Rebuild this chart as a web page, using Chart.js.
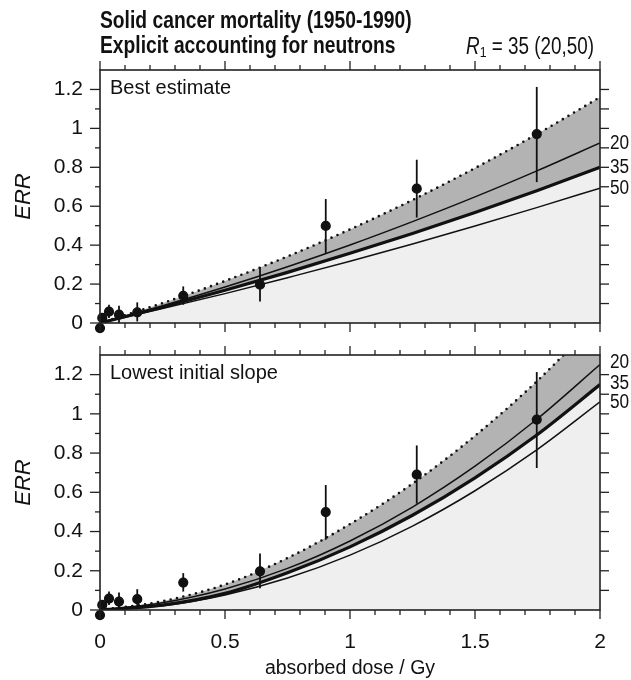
<!DOCTYPE html>
<html>
<head>
<meta charset="utf-8">
<script src="https://cdn.jsdelivr.net/npm/chart.js@4.4.0/dist/chart.umd.min.js"></script>
<style>
  html, body { margin: 0; padding: 0; background: #fff; }
  #wrap { position: relative; width: 631px; height: 680px; }
  canvas { position: absolute; left: 0; }
  #top { top: 0; }
  #bottom { top: 345px; }
</style>
</head>
<body>
<div id="wrap">
  <canvas id="top" width="631" height="345"></canvas>
  <canvas id="bottom" width="631" height="335"></canvas>
</div>
<script>
  /* ── Data ─────────────────────────────────────────────────────────────── */
  const doseGrid = [0, 0.25, 0.5, 0.75, 1, 1.25, 1.5, 1.75, 2];

  // Best estimate panel
  const bestUpper = [0, 0.102, 0.216, 0.342, 0.481, 0.632, 0.796, 0.972, 1.16];
  const best20    = [0, 0.089, 0.185, 0.289, 0.401, 0.521, 0.648, 0.783, 0.925];
  const best35    = [0, 0.081, 0.168, 0.260, 0.358, 0.460, 0.568, 0.681, 0.80];
  const best50    = [0, 0.074, 0.151, 0.233, 0.317, 0.406, 0.498, 0.594, 0.693];

  // Lowest initial slope panel
  const lowUpper = [0, 0.045, 0.13, 0.265, 0.438, 0.644, 0.888, 1.169, 1.49];
  const low20    = [0, 0.037, 0.107, 0.212, 0.352, 0.525, 0.733, 0.975, 1.251];
  const low35    = [0, 0.025, 0.085, 0.19, 0.322, 0.483, 0.674, 0.895, 1.149];
  const low50    = [0, 0.022, 0.077, 0.163, 0.28, 0.428, 0.608, 0.819, 1.061];

  // Observed ERR with error bars (same in both panels)
  const pointDose = [0, 0.009, 0.036, 0.076, 0.149, 0.333, 0.64, 0.903, 1.267, 1.747];
  const pointErr  = [-0.026, 0.026, 0.058, 0.043, 0.055, 0.14, 0.197, 0.499, 0.69, 0.971];
  const errLow    = [-0.034, 0.008, 0.026, 0.0, 0.008, 0.094, 0.111, 0.358, 0.542, 0.724];
  const errHigh   = [-0.018, 0.046, 0.094, 0.089, 0.106, 0.188, 0.288, 0.637, 0.839, 1.213];

  // Axis ticks and labels
  const xTickValues = [0, 0.5, 1, 1.5, 2];
  const xTickLabels = ['0', '0.5', '1', '1.5', '2'];
  const yTickValues = [0, 0.2, 0.4, 0.6, 0.8, 1, 1.2];
  const yTickLabels = ['0', '0.2', '0.4', '0.6', '0.8', '1', '1.2'];
  const curveLabels = ['20', '35', '50'];

  /* ── Styling ──────────────────────────────────────────────────────────── */
  const SANS   = "'Liberation Sans', Arial, sans-serif";
  const INK    = '#111';
  const DARK_FILL  = '#b3b3b3';
  const LIGHT_FILL = '#efefef';

  const xy = ys => doseGrid.map((d, i) => ({ x: d, y: ys[i] }));

  // condensed text: regular face squeezed horizontally
  function squeezed(ctx, str, x, y, font, sx) {
    ctx.save();
    ctx.font = font;
    ctx.translate(x, y);
    ctx.scale(sx, 1);
    ctx.fillText(str, 0, 0);
    const w = ctx.measureText(str).width * sx;
    ctx.restore();
    return w;
  }
  function squeezedWidth(ctx, str, font, sx) {
    ctx.save(); ctx.font = font;
    const w = ctx.measureText(str).width * sx;
    ctx.restore();
    return w;
  }

  /* ── Frame, ticks, error bars, labels ─────────────────────────────────── */
  const panelDecor = {
    id: 'panelDecor',
    beforeDatasetDraw(chart, args) {
      if (args.index !== 0) return;
      const { ctx, scales: { x, y } } = chart;
      ctx.save();
      ctx.strokeStyle = INK;
      ctx.lineWidth = 1.8;
      pointDose.forEach((d, i) => {
        const px = x.getPixelForValue(d);
        ctx.beginPath();
        ctx.moveTo(px, y.getPixelForValue(errLow[i]));
        ctx.lineTo(px, y.getPixelForValue(errHigh[i]));
        ctx.stroke();
      });
      ctx.restore();
    },
    afterDraw(chart, args, opts) {
      const { ctx, chartArea: a, scales: { x, y } } = chart;
      const seg = (x1, y1, x2, y2) => { ctx.beginPath(); ctx.moveTo(x1, y1); ctx.lineTo(x2, y2); ctx.stroke(); };
      ctx.save();
      ctx.strokeStyle = '#222';
      ctx.lineWidth = 1.3;
      for (let i = 0; i <= 20; i++) {
        const px = x.getPixelForValue(i / 10);
        const len = i % 5 === 0 ? 9 : 5;
        seg(px, a.top, px, a.top - len);
        seg(px, a.bottom, px, a.bottom + len);
      }
      for (let j = 0; j <= 12; j++) {
        const py = y.getPixelForValue(j / 10);
        seg(a.left, py, a.left - (j % 2 === 0 ? 10 : 5), py);
        if (j > 0) seg(a.right, py, a.right + 9, py);
      }
      ctx.lineWidth = 1.6;
      ctx.strokeRect(a.left, a.top, a.right - a.left, a.bottom - a.top);

      ctx.fillStyle = INK;
      ctx.textBaseline = 'middle';
      ctx.textAlign = 'left';
      ctx.font = `20px ${SANS}`;
      ctx.fillText(opts.label, a.left + 10, a.top + 18);

      opts.ends.forEach((v, k) => {
        squeezed(ctx, curveLabels[k], a.right + 10, y.getPixelForValue(v) + opts.endShift[k], `20.5px ${SANS}`, 0.84);
      });

      if (opts.title) {
        const fB = `bold 23.5px ${SANS}`;
        squeezed(ctx, 'Solid cancer mortality (1950-1990)', a.left, 22, fB, 0.82);
        squeezed(ctx, 'Explicit accounting for neutrons', a.left, 46.5, fB, 0.82);
        const fR = `italic 23px ${SANS}`, fSub = `15px ${SANS}`, fRest = `23px ${SANS}`;
        const rest = ' = 35 (20,50)';
        const wR = squeezedWidth(ctx, 'R', fR, 0.82);
        const wS = squeezedWidth(ctx, '1', fSub, 0.82);
        const wRest = squeezedWidth(ctx, rest, fRest, 0.82);
        let sx = a.right - 6 - (wR + wS + wRest);
        sx += squeezed(ctx, 'R', sx, 47.5, fR, 0.82);
        sx += squeezed(ctx, '1', sx, 53, fSub, 0.82);
        squeezed(ctx, rest, sx, 47.5, fRest, 0.82);
      }
      ctx.restore();
    }
  };

  function makePanel(canvasId, upper, c20, c35, c50, deco, isBottom) {
    const datasets = [
      { data: pointDose.map((d, i) => ({ x: d, y: pointErr[i] })), showLine: false,
        pointRadius: 4.4, pointBackgroundColor: INK, pointBorderColor: INK, pointBorderWidth: 1.4, clip: false },
      { data: xy(upper), borderColor: INK, borderWidth: 2.6, borderDash: [0, 6.5], borderCapStyle: 'round',
        backgroundColor: DARK_FILL, fill: 3, pointRadius: 0, cubicInterpolationMode: 'monotone' },
      { data: xy(c20), borderColor: INK, borderWidth: 1.5, fill: false, pointRadius: 0, cubicInterpolationMode: 'monotone' },
      { data: xy(c35), borderColor: INK, borderWidth: 3.2, backgroundColor: LIGHT_FILL, fill: 'origin',
        pointRadius: 0, cubicInterpolationMode: 'monotone' },
      { data: xy(c50), borderColor: INK, borderWidth: 1.5, fill: false, pointRadius: 0, cubicInterpolationMode: 'monotone' }
    ];
    return new Chart(document.getElementById(canvasId), {
      type: 'line',
      data: { datasets },
      plugins: [panelDecor],
      options: {
        responsive: false,
        animation: false,
        layout: { padding: { top: isBottom ? 10 : 70, right: 31, bottom: isBottom ? 0 : 22, left: 0 } },
        plugins: {
          legend: { display: false },
          tooltip: { enabled: false },
          filler: { drawTime: 'beforeDatasetsDraw' },
          panelDecor: deco
        },
        scales: {
          x: {
            type: 'linear', min: 0, max: 2, display: isBottom,
            afterBuildTicks: s => { s.ticks = xTickValues.map(v => ({ value: v })); },
            afterFit: s => {
              if (isBottom) s.height = 70;
              s.paddingLeft = 0; s.paddingRight = 0;
            },
            grid: { display: false, drawTicks: false }, border: { display: false },
            ticks: { maxRotation: 0, autoSkip: false, padding: 20, color: INK,
                     font: { family: SANS, size: 21 }, callback: (v, i) => xTickLabels[i] },
            title: { display: true, text: 'absorbed dose / Gy', color: INK,
                     font: { family: SANS, size: 19.5 }, padding: { top: 0, bottom: 0 } }
          },
          y: {
            min: 0, max: 1.3, position: 'left',
            afterBuildTicks: s => { s.ticks = yTickValues.map(v => ({ value: v })); },
            afterFit: s => { s.width = 100; s.paddingTop = 0; s.paddingBottom = 0; },
            grid: { display: false, drawTicks: false }, border: { display: false },
            ticks: { padding: 17, autoSkip: false, color: INK, font: { family: SANS, size: 21 },
                     callback: (v, i) => yTickLabels[i] },
            title: { display: true, text: 'ERR', color: INK,
                     font: { family: SANS, size: 22, style: 'italic' }, padding: { top: 11, bottom: 0 } }
          }
        }
      }
    });
  }

  makePanel('top', bestUpper, best20, best35, best50, {
    label: 'Best estimate', title: true,
    ends: [best20[8], best35[8], best50[8]], endShift: [0, 0, 0]
  }, false);

  makePanel('bottom', lowUpper, low20, low35, low50, {
    label: 'Lowest initial slope', title: false,
    ends: [low20[8], low35[8], low50[8]], endShift: [-2, -1, 0]
  }, true);
</script>
</body>
</html>
